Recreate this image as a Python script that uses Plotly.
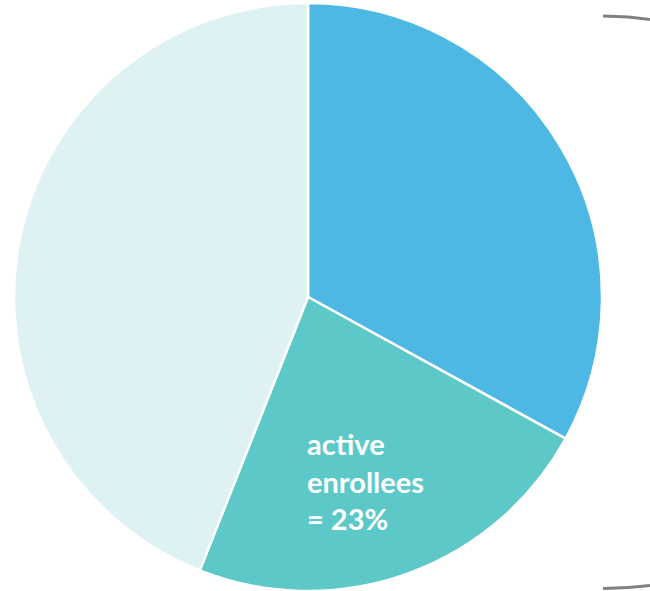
import plotly.graph_objects as go

W, H = 650, 591

labels = ["other enrollees", "active enrollees", "not enrolled"]
values = [33, 23, 44]
colors = ["#4EB8E4", "#5CC8C8", "#DEF2F4"]
label_text = "active<br>enrollees<br>= 23%"

cx, cy, r = 308, 297, 294

fig = go.Figure(go.Pie(
    labels=labels,
    values=values,
    sort=False,
    direction="clockwise",
    rotation=0,
    marker=dict(colors=colors, line=dict(color="white", width=2.5)),
    textinfo="none",
    hoverinfo="label+percent",
    showlegend=False,
    domain=dict(x=[(cx - r - 3) / W, (cx + r + 3) / W], y=[1 - (cy + r) / H, 1 - (cy - r) / H]),
))

fig.add_annotation(
    text="<b>" + label_text + "</b>",
    x=305 / W, y=1 - 481 / H, xref="paper", yref="paper",
    xanchor="left", yanchor="middle", align="left", showarrow=False,
    font=dict(family="Lato", size=29, color="white"),
)

def px(x, y):
    return f"{x / W:.4f},{1 - y / H:.4f}"

gray = "#808080"
fig.add_shape(type="path", xref="paper", yref="paper",
              path=f"M {px(603, 16)} Q {px(630, 16.5)} {px(650, 19.5)}",
              line=dict(color=gray, width=3))
fig.add_shape(type="path", xref="paper", yref="paper",
              path=f"M {px(603, 588.5)} Q {px(630, 588)} {px(650, 585.5)}",
              line=dict(color=gray, width=3))

fig.update_layout(
    width=W, height=H,
    margin=dict(l=0, r=0, t=0, b=0),
    paper_bgcolor="white", plot_bgcolor="white",
)

fig.write_html("out.html")
